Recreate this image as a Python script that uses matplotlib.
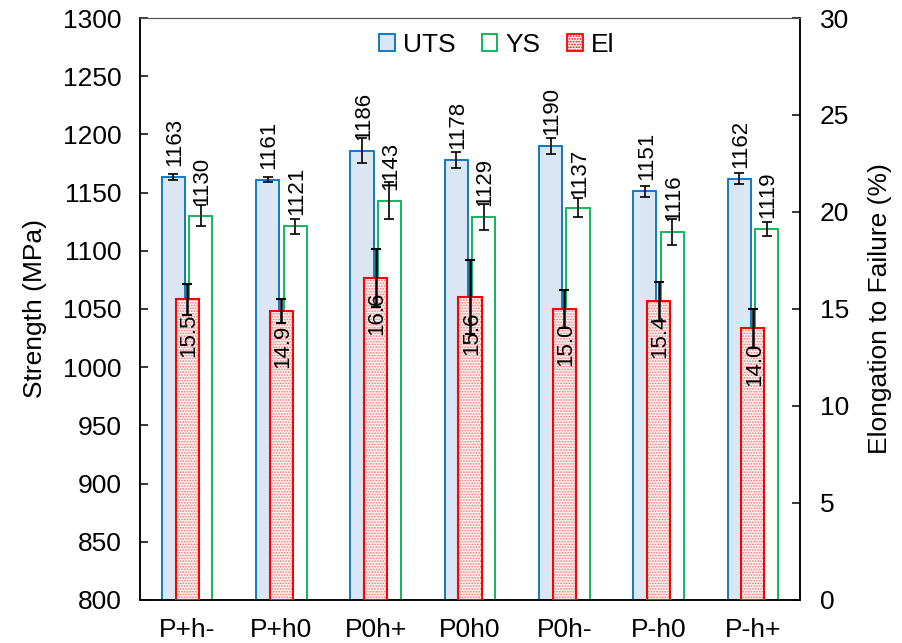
import numpy as np
import matplotlib
matplotlib.use("Agg")
import matplotlib.pyplot as plt
from matplotlib.patches import Patch

plt.rcParams['font.family'] = ['Liberation Sans', 'DejaVu Sans']
plt.rcParams['hatch.linewidth'] = 0.8

# 試料ごとの引張特性
samples = ["P+h-", "P+h0", "P0h+", "P0h0", "P0h-", "P-h0", "P-h+"]
uts = [1163, 1161, 1186, 1178, 1190, 1151, 1162]
uts_err = [2.6, 2.0, 10.6, 6.5, 6.5, 4.5, 5.0]
ys = [1130, 1121, 1143, 1129, 1137, 1116, 1119]
ys_err = [9.0, 6.5, 16.0, 11.5, 8.0, 11.0, 6.0]
el = [15.5, 14.9, 16.6, 15.6, 15.0, 15.4, 14.0]
el_err = [0.8, 0.6, 1.5, 1.9, 1.0, 1.0, 1.0]

c_uts = "#0070C0"
c_uts_fill = "#DAE6F4"
c_ys = "#00B050"
c_el = "#FF0000"

x = np.arange(len(samples))
w = 0.245
off = 0.145
fs = 19
fs_val = 16

fig = plt.figure(figsize=(9.03, 6.43), dpi=100)
ax = fig.add_axes([0.155, 0.067, 0.731, 0.905])
ax2 = ax.twinx()

# 強度 (左軸)
ax.bar(x - off, uts, w, color=c_uts_fill, edgecolor=c_uts, linewidth=1.3, zorder=2)
ax.errorbar(x - off, uts, yerr=uts_err, fmt="none", ecolor="black", elinewidth=1.2, capsize=3.5, capthick=1.2, zorder=3)
ax.bar(x + off, ys, w, color="white", edgecolor=c_ys, linewidth=1.3, zorder=2)
ax.errorbar(x + off, ys, yerr=ys_err, fmt="none", ecolor="black", elinewidth=1.2, capsize=3.5, capthick=1.2, zorder=3)

for xi, v in zip(x - off, uts):
    ax.annotate(str(v), (xi, v), xytext=(1, 8), textcoords="offset points",
                rotation=90, ha="center", va="bottom", fontsize=fs_val, zorder=4)
for xi, v in zip(x + off, ys):
    ax.annotate(str(v), (xi, v), xytext=(1, 8), textcoords="offset points",
                rotation=90, ha="center", va="bottom", fontsize=fs_val, zorder=4)

# 伸び (右軸)
ax2.bar(x, el, w, color="#FFF0F0", edgecolor="#F07878", hatch="......", linewidth=0, zorder=2)
ax2.bar(x, el, w, fill=False, edgecolor=c_el, linewidth=1.5, zorder=3)
ax2.errorbar(x, el, yerr=el_err, fmt="none", ecolor="black", elinewidth=1.8, capsize=3.5, capthick=1.5, zorder=4)
for xi, v in zip(x, el):
    ax2.annotate(f"{v:.1f}", (xi, v), xytext=(1, -10), textcoords="offset points",
                 rotation=90, ha="center", va="top", fontsize=fs_val, zorder=5)

ax.set_xlim(-0.5, len(samples) - 0.5)
ax.set_ylim(800, 1300)
ax.set_yticks(np.arange(800, 1301, 50))
ax2.set_ylim(0, 30)
ax2.set_yticks(np.arange(0, 31, 5))

ax.set_xticks(x)
ax.set_xticklabels(samples, fontsize=fs)
ax.tick_params(axis="x", length=0, pad=13)
ax.tick_params(axis="y", direction="in", length=6, width=1.1, labelsize=fs, pad=13)
ax2.tick_params(axis="y", direction="in", length=6, width=1.1, labelsize=fs, pad=14)

ax.set_ylabel("Strength (MPa)", fontsize=fs, labelpad=12)
ax2.set_ylabel("Elongation to Failure (%)", fontsize=fs, labelpad=14)

for a in (ax, ax2):
    for s in a.spines.values():
        s.set_linewidth(1.1)
    a.spines["top"].set_color("#555555")
    a.spines["top"].set_linewidth(0.8)

handles = [
    Patch(facecolor=c_uts_fill, edgecolor=c_uts, linewidth=1.3, label="UTS"),
    Patch(facecolor="white", edgecolor=c_ys, linewidth=1.3, label="YS"),
    Patch(facecolor="#FFF0F0", edgecolor=c_el, hatch="......", linewidth=1.3, label="El"),
]
ax2.legend(handles=handles, loc="upper center", bbox_to_anchor=(0.54, 1.015), ncol=3,
           frameon=False, fontsize=fs, handlelength=0.6, handleheight=0.6,
           handletextpad=0.3, columnspacing=1.0)

fig.savefig("out.png", dpi=100)
